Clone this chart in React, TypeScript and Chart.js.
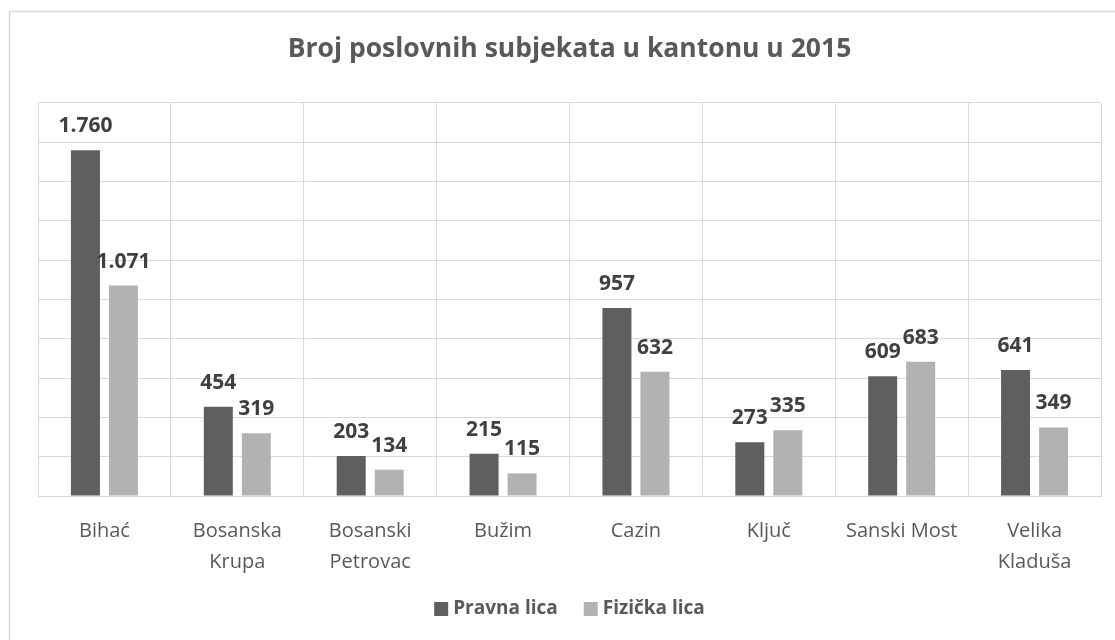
import React, { useEffect, useRef } from "react";
import { Chart, registerables } from "chart.js";

Chart.register(...registerables);

// ---- data ----
const categories: string[][] = [
  ["Bihać"],
  ["Bosanska", "Krupa"],
  ["Bosanski", "Petrovac"],
  ["Bužim"],
  ["Cazin"],
  ["Ključ"],
  ["Sanski Most"],
  ["Velika", "Kladuša"],
];
const pravnaLica = [1760, 454, 203, 215, 957, 273, 609, 641];
const fizickaLica = [1071, 319, 134, 115, 632, 335, 683, 349];
const seriesNames = ["Pravna lica", "Fizička lica"];
const seriesColors = ["#5f5f5f", "#b2b2b2"];
const titleText = "Broj poslovnih subjekata u kantonu u 2015";
const yMin = 0;
const yMax = 2000;
const yStep = 200;

const FONT = "'Open Sans', sans-serif";
const W = 1115;
const H = 640;

const fmt = (v: number) => String(v).replace(/\B(?=(\d{3})+(?!\d))/g, ".");

const framePlugin = {
  id: "frame",
  beforeDraw(chart: any) {
    const ctx = chart.ctx;
    ctx.save();
    ctx.fillStyle = "#ffffff";
    ctx.fillRect(0, 0, chart.width, chart.height);
    ctx.strokeStyle = "#d9d9d9";
    ctx.lineWidth = 1.5;
    ctx.strokeRect(9.5, 11.5, chart.width + 50, chart.height + 50);
    ctx.restore();
  },
};

const dataLabelPlugin = {
  id: "dataLabels",
  afterDatasetsDraw(chart: any) {
    const ctx = chart.ctx;
    ctx.save();
    ctx.font = `bold 21px ${FONT}`;
    ctx.fillStyle = "#404040";
    ctx.textAlign = "center";
    ctx.textBaseline = "alphabetic";
    chart.data.datasets.forEach((ds: any, i: number) => {
      const meta = chart.getDatasetMeta(i);
      meta.data.forEach((el: any, j: number) => {
        ctx.fillText(fmt(ds.data[j]), el.x, el.y - 18);
      });
    });
    ctx.restore();
  },
};

const legendPlugin = {
  id: "customLegend",
  afterDraw(chart: any) {
    const ctx = chart.ctx;
    const area = chart.chartArea;
    ctx.save();
    ctx.font = `bold 19px ${FONT}`;
    ctx.textBaseline = "middle";
    ctx.textAlign = "left";
    const box = 14;
    const gapBoxText = 5;
    const gapItems = 26;
    const items = chart.data.datasets.map((ds: any) => ({
      label: ds.label,
      color: ds.backgroundColor,
      w: ctx.measureText(ds.label).width,
    }));
    const total =
      items.reduce((s: number, it: any) => s + box + gapBoxText + it.w, 0) +
      gapItems * (items.length - 1);
    let x = (area.left + area.right) / 2 - total / 2;
    const cy = 609;
    items.forEach((it: any) => {
      ctx.fillStyle = it.color;
      ctx.fillRect(x, cy - box / 2, box, box);
      x += box + gapBoxText;
      ctx.fillStyle = "#595959";
      ctx.fillText(it.label, x, cy);
      x += it.w + gapItems;
    });
    ctx.restore();
  },
};

export default function App() {
  const ref = useRef<HTMLCanvasElement | null>(null);

  useEffect(() => {
    if (!ref.current) return;
    Chart.defaults.font.family = FONT;
    const chart = new Chart(ref.current, {
      type: "bar",
      data: {
        labels: categories,
        datasets: [
          {
            label: seriesNames[0],
            data: pravnaLica,
            backgroundColor: seriesColors[0],
            categoryPercentage: 0.572,
            barPercentage: 0.763,
          },
          {
            label: seriesNames[1],
            data: fizickaLica,
            backgroundColor: seriesColors[1],
            categoryPercentage: 0.572,
            barPercentage: 0.763,
          },
        ],
      },
      options: {
        responsive: false,
        animation: false,
        layout: { padding: { left: 38, right: 14, top: 0, bottom: 0 } },
        plugins: {
          legend: { display: false },
          tooltip: { enabled: false },
          title: {
            display: true,
            text: titleText,
            color: "#595959",
            font: { family: FONT, size: 26.5, weight: "bold", lineHeight: 1.2 },
            padding: { top: 33.8, bottom: 37.4 },
          },
        },
        scales: {
          x: {
            grid: { color: "#d9d9d9", drawTicks: false, lineWidth: 1 },
            border: { color: "#d9d9d9" },
            ticks: {
              color: "#595959",
              font: { family: FONT, size: 20, lineHeight: 1.55 },
              padding: 19.5,
              maxRotation: 0,
              autoSkip: false,
            },
            afterFit: (scale: any) => {
              scale.height = 144;
            },
          },
          y: {
            min: yMin,
            max: yMax,
            grid: { color: "#d9d9d9", drawTicks: false, lineWidth: 1 },
            border: { color: "#d9d9d9" },
            ticks: { display: false, stepSize: yStep },
            afterFit: (scale: any) => {
              scale.width = 0;
            },
          },
        },
      },
      plugins: [framePlugin, dataLabelPlugin, legendPlugin],
    });
    return () => chart.destroy();
  }, []);

  return (
    <div
      style={{
        position: "absolute",
        left: 0,
        top: 0,
        width: W,
        height: H,
        overflow: "hidden",
        background: "#fff",
      }}
    >
      <canvas ref={ref} width={W} height={H} style={{ display: "block" }} />
    </div>
  );
}
